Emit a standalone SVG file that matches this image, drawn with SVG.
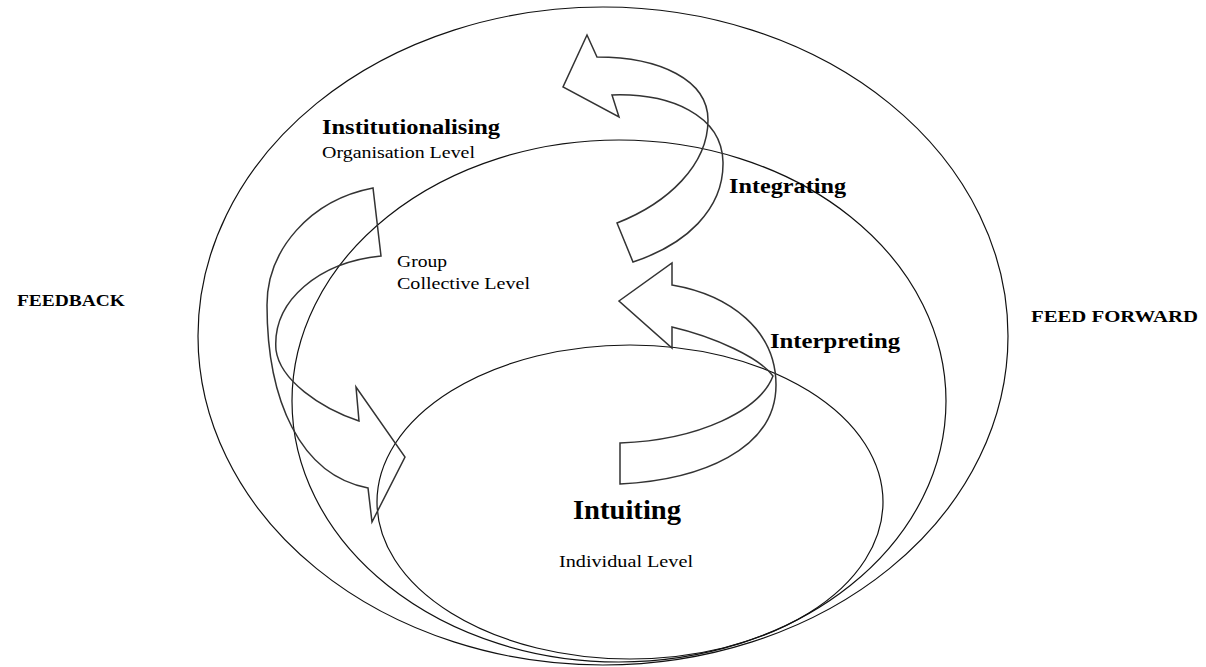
<svg xmlns="http://www.w3.org/2000/svg" width="1206" height="667" viewBox="0 0 1206 667">
  <style>
    .ring { fill: none; stroke: #111; stroke-width: 1.2; }
    .flow { fill: none; stroke: #333; stroke-width: 1.5; stroke-linejoin: miter; }
    .t { font-family: "Liberation Serif", "Times New Roman", serif; fill: #000; }
    .b { font-weight: bold; }
  </style>
  <rect width="1206" height="667" fill="#fff"/>

  <!-- nested levels -->
  <g id="organisation-level">
    <ellipse class="ring" cx="603" cy="336" rx="405" ry="329"/>
  </g>
  <g id="group-level">
    <ellipse class="ring" cx="619" cy="401" rx="327" ry="261"/>
  </g>
  <g id="individual-level">
    <ellipse class="ring" cx="630" cy="502" rx="253" ry="157"/>
  </g>

  <!-- curved process arrows -->
  <g id="connectors">
    <!-- integrating: group up to organisation -->
    <path class="flow" d="M617,223 C668,203 708,165 708,120 C708,80 660,57 597,57 L587,35 L563,87 L619,117 L612,95 C670,93 722,115 723,162 C724,210 685,245 633,262 Z"/>
    <!-- interpreting: individual up to group -->
    <path class="flow" d="M620,484 C700,480 776,450 776,385 C776,330 730,295 672,285 L672,263 L619,301 L672,348 L672,327 C715,337 760,358 773,376 C760,410 700,440 620,443 Z"/>
    <!-- institutionalising feedback: organisation down to group/individual -->
    <path class="flow" d="M373,188 C310,200 267,250 267,305 C267,400 300,475 368,488 L372,522 L405,457 L356,387 L359,421 C320,408 280,380 276,350 C272,300 320,262 381,256 Z"/>
  </g>

  <!-- labels -->
  <g id="label-institutionalising">
    <text class="t b" x="322" y="134" font-size="20" textLength="178" lengthAdjust="spacingAndGlyphs">Institutionalising</text>
    <text class="t" x="322" y="158" font-size="16" textLength="153" lengthAdjust="spacingAndGlyphs">Organisation Level</text>
  </g>
  <g id="label-group">
    <text class="t" x="397" y="267" font-size="16" textLength="50" lengthAdjust="spacingAndGlyphs">Group</text>
    <text class="t" x="397" y="289" font-size="16" textLength="133" lengthAdjust="spacingAndGlyphs">Collective Level</text>
  </g>
  <g id="label-integrating">
    <text class="t b" x="729" y="193" font-size="20" textLength="117" lengthAdjust="spacingAndGlyphs">Integrating</text>
  </g>
  <g id="label-interpreting">
    <text class="t b" x="770" y="348" font-size="20" textLength="130" lengthAdjust="spacingAndGlyphs">Interpreting</text>
  </g>
  <g id="label-intuiting">
    <text class="t b" x="573" y="519" font-size="27" textLength="108" lengthAdjust="spacingAndGlyphs">Intuiting</text>
    <text class="t" x="559" y="567" font-size="16" textLength="134" lengthAdjust="spacingAndGlyphs">Individual Level</text>
  </g>
  <g id="label-feedback">
    <text class="t b" x="17" y="306" font-size="16" textLength="108" lengthAdjust="spacingAndGlyphs">FEEDBACK</text>
  </g>
  <g id="label-feed-forward">
    <text class="t b" x="1031" y="322" font-size="16" textLength="167" lengthAdjust="spacingAndGlyphs">FEED FORWARD</text>
  </g>
</svg>
